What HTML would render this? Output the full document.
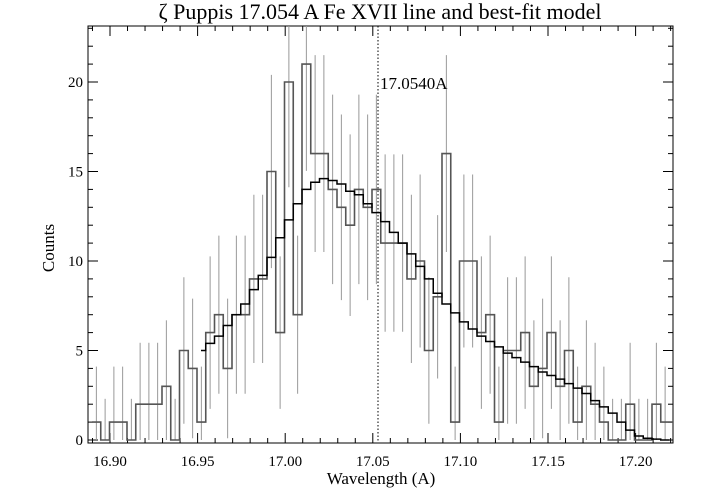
<!DOCTYPE html>
<html><head><meta charset="utf-8"><style>
body{margin:0;background:#fff;}
svg{display:block;font-family:"Liberation Serif",serif;}
</style></head><body>
<svg id="s" width="701" height="499" xmlns="http://www.w3.org/2000/svg"></svg>
<script>
const s=document.getElementById('s');
let h='';
const L=88,R=673,T=26,B=443;
const X=w=>110+(w-16.90)*1752;
const Y=c=>440-17.9*c;
h+=`<rect x="${L}" y="${T}" width="${R-L}" height="${B-T}" fill="none" stroke="#000" stroke-width="1"/>`;
for(let i=0;i<=40;i++){const w=16.89+i*0.01;const x=X(w);if(x<L||x>R)continue;
 const maj=(Math.round(w*100)%5===0);const l=maj?10:5;
 h+=`<line x1="${x}" y1="${B}" x2="${x}" y2="${B-l}" stroke="#000"/><line x1="${x}" y1="${T}" x2="${x}" y2="${T+l}" stroke="#000"/>`;
 if(maj)h+=`<text x="${x}" y="466" font-size="15" text-anchor="middle">${w.toFixed(2)}</text>`;}
for(let c=0;c<=23;c++){const y=Y(c);const maj=c%5===0;const l=maj?10:5;
 h+=`<line x1="${L}" y1="${y}" x2="${L+l}" y2="${y}" stroke="#000"/><line x1="${R}" y1="${y}" x2="${R-l}" y2="${y}" stroke="#000"/>`;
 if(maj)h+=`<text x="${L-5}" y="${y+5}" font-size="15" text-anchor="end">${c}</text>`;}
const d=[1,0,1,1,0,2,2,2,3,0,5,4,1,6,7,4,7,7,9,9,15,6,20,7,21,16,16,14,13,12,14,13,14,11,11,11,9,10,5,8,16,1,10,10,6,7,1,5,5,6,3,4,6,3,5,1,3,2,1,0,0,2,0,0,2,1,1];
const E0=92,W=8.75;
let eb='',p='';
d.forEach((v,i)=>{let x0=Math.max(L,E0+i*W),x1=Math.min(R,E0+(i+1)*W);const cx=E0+(i+0.5)*W;
 const e=2.3+0.8*Math.sqrt(v);
 if(cx<R)eb+=`<line x1="${cx}" y1="${Math.max(T,Y(v+e))}" x2="${cx}" y2="${Math.min(440,Y(v-e))}" stroke="#999" stroke-width="1"/>`;
 p+=(i===0?'M':'L')+x0+','+Y(v)+'L'+x1+','+Y(v);});
h+=eb;
h+=`<path d="${p}" fill="none" stroke="#555" stroke-width="1.6"/>`;
const m=[5.4,5.8,6.4,7.0,7.6,8.4,9.2,10.2,11.3,12.3,13.2,14.0,14.4,14.6,14.5,14.3,13.9,13.7,13.2,12.7,12.2,11.6,11.0,10.4,9.7,9.0,8.2,7.6,7.1,6.6,6.2,5.8,5.5,5.2,4.85,4.6,4.35,4.1,3.8,3.6,3.4,3.15,2.9,2.6,2.2,1.85,1.5,1.0,0.55,0.22,0.1,0.05,0.0];
let mp=`M201,${Y(5)}L${E0+13*W},${Y(5)}`;
m.forEach((v,i)=>{const x0=E0+(13+i)*W,x1=Math.min(R,x0+W);mp+=`L${x0},${Y(v)}L${x1},${Y(v)}`;});
h+=`<path d="${mp}" fill="none" stroke="#000" stroke-width="1.5"/>`;
h+=`<line x1="378" y1="${T}" x2="378" y2="${B}" stroke="#000" stroke-dasharray="1.5,2"/>`;
h+=`<text x="380" y="89" font-size="17">17.0540A</text>`;
h+=`<text x="380" y="19" font-size="22" text-anchor="middle">ζ Puppis 17.054 A Fe XVII line and best-fit model</text>`;
h+=`<text x="381" y="484" font-size="17" text-anchor="middle">Wavelength (A)</text>`;
h+=`<text transform="translate(54,248) rotate(-90)" font-size="17" text-anchor="middle">Counts</text>`;
s.innerHTML=h;
</script>
</body></html>
